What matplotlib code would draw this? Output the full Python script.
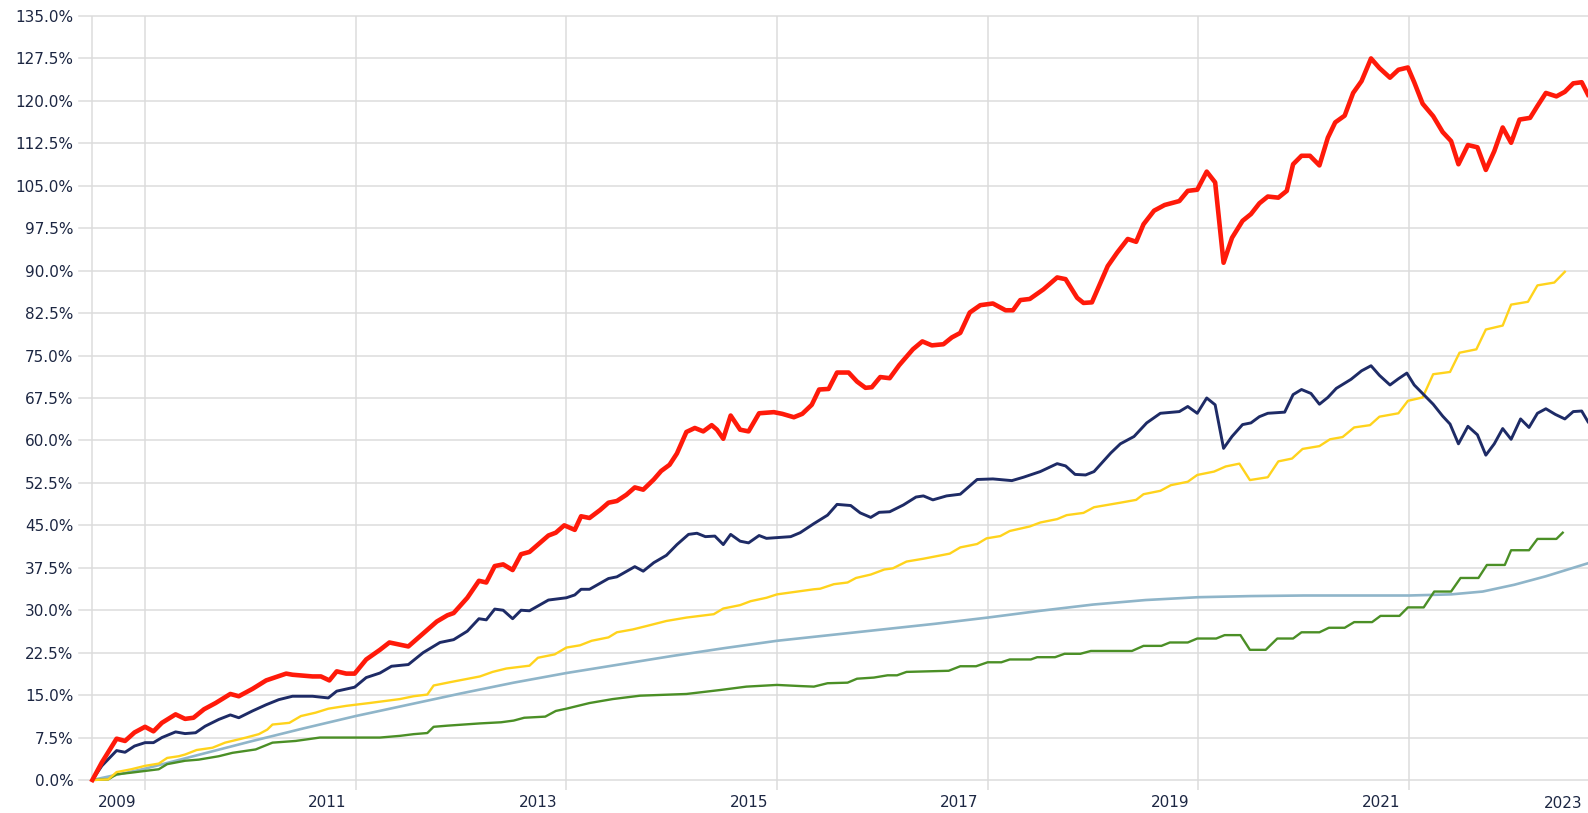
import matplotlib
matplotlib.use("Agg")
import matplotlib.pyplot as plt
from matplotlib.transforms import ScaledTranslation

# Cumulative returns (%) by decimal year
red_pts = [(2008.50, 0), (2008.59, 3.1), (2008.73, 7.3), (2008.81, 6.9), (2008.90, 8.4), (2009.00, 9.4),
           (2009.08, 8.6), (2009.16, 10.1), (2009.29, 11.6), (2009.38, 10.8), (2009.46, 11.0), (2009.56, 12.5),
           (2009.67, 13.6), (2009.81, 15.2), (2009.89, 14.8), (2010.02, 16.1), (2010.15, 17.6), (2010.34, 18.8),
           (2010.40, 18.6), (2010.59, 18.3), (2010.67, 18.3), (2010.75, 17.6), (2010.82, 19.2), (2010.91, 18.8),
           (2010.99, 18.8), (2011.10, 21.3), (2011.23, 23.0), (2011.32, 24.3), (2011.50, 23.6), (2011.61, 25.4),
           (2011.77, 28.0), (2011.87, 29.1), (2011.93, 29.5), (2012.06, 32.2), (2012.17, 35.2), (2012.24, 34.9),
           (2012.32, 37.8), (2012.40, 38.1), (2012.49, 37.1), (2012.57, 39.9), (2012.65, 40.3), (2012.73, 41.6),
           (2012.83, 43.2), (2012.90, 43.7), (2012.98, 45.0), (2013.08, 44.2), (2013.14, 46.6), (2013.22, 46.3),
           (2013.32, 47.7), (2013.40, 49.0), (2013.48, 49.3), (2013.57, 50.4), (2013.65, 51.7), (2013.73, 51.3),
           (2013.83, 53.1), (2013.90, 54.6), (2013.98, 55.7), (2014.05, 57.7), (2014.14, 61.5), (2014.22, 62.2),
           (2014.30, 61.6), (2014.38, 62.7), (2014.43, 61.9), (2014.49, 60.3), (2014.56, 64.4), (2014.65, 61.9),
           (2014.73, 61.6), (2014.83, 64.8), (2014.97, 65.0), (2015.05, 64.7), (2015.16, 64.1), (2015.24, 64.7),
           (2015.33, 66.3), (2015.40, 69.0), (2015.49, 69.1), (2015.57, 72.0), (2015.68, 72.0), (2015.76, 70.4),
           (2015.84, 69.3), (2015.90, 69.4), (2015.98, 71.2), (2016.07, 71.0), (2016.16, 73.3), (2016.29, 76.1),
           (2016.38, 77.5), (2016.47, 76.8), (2016.58, 77.0), (2016.66, 78.2), (2016.74, 79.0), (2016.83, 82.6),
           (2016.93, 83.9), (2017.05, 84.2), (2017.17, 83.0), (2017.24, 83.0), (2017.31, 84.8), (2017.40, 85.0),
           (2017.53, 86.7), (2017.66, 88.8), (2017.74, 88.5), (2017.85, 85.2), (2017.91, 84.3), (2017.99, 84.4),
           (2018.14, 90.8), (2018.23, 93.2), (2018.33, 95.6), (2018.41, 95.1), (2018.48, 98.2), (2018.58, 100.6),
           (2018.68, 101.6), (2018.82, 102.3), (2018.90, 104.1), (2018.99, 104.3), (2019.08, 107.5), (2019.16, 105.6),
           (2019.24, 91.4), (2019.32, 95.8), (2019.42, 98.8), (2019.50, 100.0), (2019.58, 101.9), (2019.66, 103.1),
           (2019.76, 102.9), (2019.84, 104.1), (2019.90, 108.8), (2019.98, 110.3), (2020.06, 110.3), (2020.15, 108.6),
           (2020.23, 113.5), (2020.30, 116.2), (2020.39, 117.4), (2020.47, 121.4), (2020.55, 123.5), (2020.64, 127.5),
           (2020.72, 125.8), (2020.82, 124.1), (2020.90, 125.5), (2020.99, 125.9), (2021.05, 123.3), (2021.13, 119.5),
           (2021.23, 117.3), (2021.32, 114.5), (2021.40, 112.9), (2021.47, 108.8), (2021.56, 112.2), (2021.65, 111.8),
           (2021.73, 107.8), (2021.81, 111.1), (2021.89, 115.3), (2021.97, 112.6), (2022.05, 116.7), (2022.15, 117.0),
           (2022.22, 119.1), (2022.30, 121.4), (2022.40, 120.8), (2022.48, 121.6), (2022.56, 123.1), (2022.64, 123.3),
           (2022.70, 121.1)]

navy_pts = [(2008.50, 0), (2008.59, 2.5), (2008.73, 5.2), (2008.81, 4.9), (2008.90, 6.0), (2009.00, 6.6),
            (2009.08, 6.6), (2009.16, 7.5), (2009.29, 8.5), (2009.38, 8.2), (2009.48, 8.35), (2009.57, 9.5),
            (2009.70, 10.7), (2009.81, 11.5), (2009.89, 11.0), (2010.02, 12.2), (2010.15, 13.3), (2010.27, 14.2),
            (2010.40, 14.8), (2010.59, 14.8), (2010.74, 14.5), (2010.82, 15.7), (2010.99, 16.4), (2011.10, 18.1),
            (2011.23, 18.9), (2011.34, 20.1), (2011.50, 20.4), (2011.64, 22.5), (2011.80, 24.3), (2011.93, 24.8),
            (2012.06, 26.3), (2012.17, 28.5), (2012.24, 28.3), (2012.32, 30.2), (2012.40, 30.0), (2012.49, 28.5),
            (2012.57, 30.0), (2012.65, 29.9), (2012.83, 31.8), (2013.00, 32.2), (2013.08, 32.7), (2013.14, 33.7),
            (2013.22, 33.7), (2013.40, 35.6), (2013.48, 35.9), (2013.65, 37.7), (2013.73, 36.9), (2013.83, 38.4),
            (2013.95, 39.7), (2014.05, 41.6), (2014.16, 43.4), (2014.24, 43.6), (2014.32, 43.0), (2014.41, 43.1),
            (2014.49, 41.6), (2014.56, 43.4), (2014.65, 42.2), (2014.73, 41.9), (2014.83, 43.2), (2014.90, 42.7),
            (2015.13, 43.0), (2015.22, 43.7), (2015.35, 45.3), (2015.48, 46.8), (2015.57, 48.7), (2015.70, 48.5),
            (2015.79, 47.2), (2015.89, 46.4), (2015.97, 47.3), (2016.07, 47.4), (2016.20, 48.6), (2016.32, 50.0),
            (2016.39, 50.2), (2016.48, 49.5), (2016.61, 50.2), (2016.74, 50.5), (2016.90, 53.1), (2017.05, 53.2),
            (2017.23, 52.9), (2017.34, 53.5), (2017.50, 54.5), (2017.66, 55.9), (2017.74, 55.5), (2017.83, 54.0),
            (2017.93, 53.9), (2018.01, 54.5), (2018.17, 57.8), (2018.26, 59.4), (2018.39, 60.7), (2018.51, 63.1),
            (2018.64, 64.8), (2018.82, 65.1), (2018.90, 66.0), (2018.99, 64.8), (2019.08, 67.5), (2019.16, 66.3),
            (2019.24, 58.6), (2019.32, 60.7), (2019.42, 62.8), (2019.50, 63.1), (2019.58, 64.2), (2019.66, 64.8),
            (2019.82, 65.0), (2019.90, 68.1), (2019.98, 69.0), (2020.07, 68.3), (2020.15, 66.4), (2020.23, 67.6),
            (2020.31, 69.2), (2020.45, 70.8), (2020.55, 72.3), (2020.64, 73.2), (2020.72, 71.5), (2020.82, 69.8),
            (2020.90, 70.9), (2020.98, 71.9), (2021.05, 69.8), (2021.13, 68.3), (2021.23, 66.4), (2021.32, 64.3),
            (2021.39, 62.9), (2021.47, 59.4), (2021.56, 62.5), (2021.65, 61.0), (2021.73, 57.4), (2021.81, 59.4),
            (2021.89, 62.1), (2021.97, 60.2), (2022.06, 63.8), (2022.14, 62.3), (2022.22, 64.8), (2022.30, 65.6),
            (2022.39, 64.6), (2022.48, 63.8), (2022.56, 65.1), (2022.64, 65.2), (2022.70, 63.3)]

yellow_pts = [(2008.50, 0), (2008.65, 0.1), (2008.73, 1.4), (2008.87, 1.9), (2009.00, 2.5), (2009.13, 2.9),
              (2009.21, 3.9), (2009.32, 4.2), (2009.38, 4.5), (2009.49, 5.3), (2009.64, 5.7), (2009.76, 6.6),
              (2009.96, 7.5), (2010.08, 8.1), (2010.16, 8.9), (2010.21, 9.8), (2010.37, 10.1), (2010.48, 11.3),
              (2010.62, 11.9), (2010.74, 12.6), (2010.91, 13.1), (2011.13, 13.6), (2011.42, 14.3), (2011.55, 14.8),
              (2011.68, 15.1), (2011.74, 16.7), (2011.90, 17.3), (2012.18, 18.3), (2012.30, 19.1), (2012.43, 19.7),
              (2012.65, 20.2), (2012.73, 21.6), (2012.89, 22.2), (2013.00, 23.4), (2013.13, 23.8), (2013.24, 24.6),
              (2013.40, 25.2), (2013.48, 26.1), (2013.63, 26.6), (2013.76, 27.2), (2013.95, 28.1), (2014.14, 28.7),
              (2014.40, 29.3), (2014.49, 30.3), (2014.65, 30.9), (2014.75, 31.6), (2014.90, 32.2), (2015.00, 32.8),
              (2015.35, 33.7), (2015.41, 33.8), (2015.54, 34.6), (2015.67, 34.9), (2015.75, 35.7), (2015.89, 36.3),
              (2016.02, 37.2), (2016.10, 37.4), (2016.23, 38.6), (2016.39, 39.1), (2016.64, 40.0), (2016.74, 41.1),
              (2016.90, 41.7), (2016.99, 42.7), (2017.12, 43.1), (2017.21, 44.0), (2017.40, 44.8), (2017.50, 45.5),
              (2017.66, 46.1), (2017.75, 46.8), (2017.91, 47.2), (2018.01, 48.2), (2018.26, 49.0), (2018.41, 49.5),
              (2018.48, 50.5), (2018.64, 51.1), (2018.74, 52.1), (2018.90, 52.7), (2018.99, 53.9), (2019.15, 54.5),
              (2019.26, 55.4), (2019.39, 55.9), (2019.49, 53.0), (2019.66, 53.5), (2019.76, 56.3), (2019.89, 56.8),
              (2019.99, 58.5), (2020.15, 59.0), (2020.25, 60.2), (2020.37, 60.6), (2020.48, 62.3), (2020.63, 62.7),
              (2020.72, 64.2), (2020.90, 64.8), (2020.99, 67.0), (2021.13, 67.6), (2021.23, 71.7), (2021.39, 72.1),
              (2021.48, 75.5), (2021.64, 76.1), (2021.73, 79.6), (2021.89, 80.3), (2021.97, 84.0), (2022.13, 84.5),
              (2022.22, 87.4), (2022.38, 87.9), (2022.48, 89.8)]

green_pts = [(2008.50, 0), (2008.65, 0.1), (2008.73, 1.0), (2008.87, 1.3), (2009.00, 1.6), (2009.13, 1.9),
             (2009.21, 2.8), (2009.38, 3.4), (2009.51, 3.6), (2009.70, 4.2), (2009.83, 4.8), (2010.05, 5.4),
             (2010.21, 6.6), (2010.43, 6.9), (2010.66, 7.5), (2011.23, 7.5), (2011.42, 7.8), (2011.55, 8.1),
             (2011.68, 8.3), (2011.74, 9.4), (2011.87, 9.6), (2012.18, 10.0), (2012.38, 10.2), (2012.50, 10.5),
             (2012.60, 11.0), (2012.80, 11.2), (2012.90, 12.2), (2013.00, 12.6), (2013.22, 13.6), (2013.44, 14.3),
             (2013.70, 14.9), (2014.14, 15.2), (2014.46, 15.9), (2014.71, 16.5), (2015.00, 16.8), (2015.22, 16.6),
             (2015.35, 16.5), (2015.48, 17.1), (2015.67, 17.2), (2015.76, 17.9), (2015.92, 18.1), (2016.05, 18.5),
             (2016.14, 18.5), (2016.23, 19.1), (2016.63, 19.3), (2016.74, 20.1), (2016.89, 20.1), (2017.00, 20.8),
             (2017.13, 20.8), (2017.21, 21.3), (2017.41, 21.3), (2017.47, 21.7), (2017.64, 21.7), (2017.73, 22.3),
             (2017.88, 22.3), (2017.98, 22.8), (2018.37, 22.8), (2018.48, 23.7), (2018.65, 23.7), (2018.73, 24.3),
             (2018.90, 24.3), (2018.99, 25.0), (2019.17, 25.0), (2019.25, 25.6), (2019.40, 25.6), (2019.49, 23.0),
             (2019.64, 23.0), (2019.75, 25.0), (2019.90, 25.0), (2019.98, 26.1), (2020.15, 26.1), (2020.24, 26.9),
             (2020.39, 26.9), (2020.48, 27.9), (2020.65, 27.9), (2020.73, 29.0), (2020.91, 29.0), (2020.99, 30.5),
             (2021.14, 30.5), (2021.24, 33.3), (2021.40, 33.3), (2021.49, 35.7), (2021.66, 35.7), (2021.74, 38.0),
             (2021.91, 38.0), (2021.97, 40.6), (2022.14, 40.6), (2022.22, 42.6), (2022.40, 42.6), (2022.46, 43.7)]

lightblue_pts = [(2008.50, 0), (2009.00, 2.0), (2009.50, 4.4), (2010.00, 6.8), (2010.50, 9.1), (2011.00, 11.3),
                 (2011.50, 13.3), (2012.00, 15.3), (2012.50, 17.2), (2013.00, 18.9), (2013.50, 20.4), (2014.00, 21.9),
                 (2014.50, 23.3), (2015.00, 24.6), (2015.50, 25.6), (2016.00, 26.6), (2016.50, 27.6), (2017.00, 28.7),
                 (2017.50, 29.9), (2018.00, 31.0), (2018.50, 31.8), (2019.00, 32.3), (2019.50, 32.5), (2020.00, 32.6),
                 (2020.50, 32.6), (2021.00, 32.6), (2021.40, 32.8), (2021.70, 33.3), (2022.00, 34.5), (2022.30, 36.0),
                 (2022.70, 38.3)]

year_ticks = [2009, 2011, 2013, 2015, 2017, 2019, 2021]
year_labels = ["2009", "2011", "2013", "2015", "2017", "2019", "2021"]
last_label = "2023"
y_ticks = [i * 7.5 for i in range(19)]

series = [
    (lightblue_pts, "#8fb5c9", 1.9),
    (green_pts, "#4b8f26", 1.7),
    (yellow_pts, "#ffd31c", 1.7),
    (navy_pts, "#1e2b66", 2.1),
    (red_pts, "#ff1a0a", 3.3),
]

fig = plt.figure(figsize=(15.88, 8.13), dpi=100)
ax = fig.add_axes([79 / 1588, 33 / 813, 1 - 79 / 1588, 764 / 813])

grid_c = "#dcdcdc"
for x in year_ticks:
    ax.axvline(x, color=grid_c, lw=1.1, zorder=0)
ax.axvline(red_pts[0][0], color=grid_c, lw=1.1, zorder=0)
for y in y_ticks:
    ax.axhline(y, color=grid_c, lw=1.1, zorder=0, clip_on=False)

for pts, color, lw in series:
    xs = [p[0] for p in pts]
    ys = [p[1] for p in pts]
    ax.plot(xs, ys, color=color, lw=lw, solid_joinstyle="round", clip_on=False, zorder=3)

ax.set_xlim(2008.373, 2022.70)
ax.set_ylim(0, 135)
for s in ax.spines.values():
    s.set_visible(False)

text_c = "#1c2642"
ax.set_yticks(y_ticks)
ax.set_yticklabels([f"{v:.1f}%" for v in y_ticks], fontsize=11, color=text_c)
ax.tick_params(axis="y", length=0, pad=4)

ax.set_xticks(year_ticks)
ax.set_xticklabels(year_labels, fontsize=11, color=text_c)
ax.tick_params(axis="x", length=7.5, width=1.1, color=grid_c, pad=3)
shift = ScaledTranslation(-9 / 100, 0, fig.dpi_scale_trans)
for lab in ax.get_xticklabels():
    lab.set_horizontalalignment("right")
    lab.set_transform(lab.get_transform() + shift)

ax.text(0.9965, -0.0205, last_label, transform=ax.transAxes, ha="right", va="top",
        fontsize=11, color=text_c)

fig.savefig("out.png", dpi=100)
